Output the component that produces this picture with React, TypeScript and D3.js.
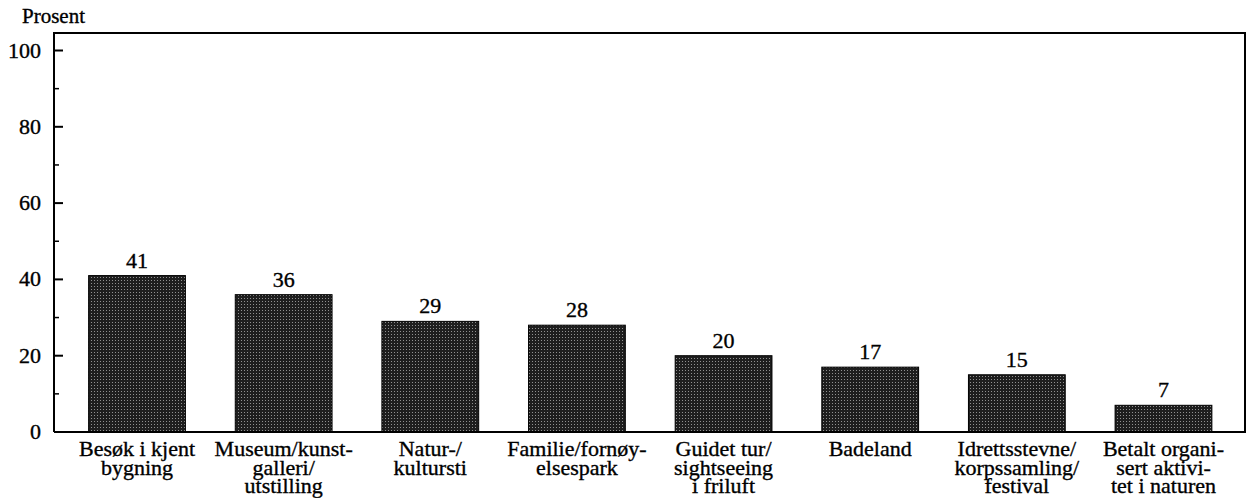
import React from "react";
import * as d3 from "d3";

const categories: string[][] = [
  ["Besøk i kjent", "bygning"],
  ["Museum/kunst-", "galleri/", "utstilling"],
  ["Natur-/", "kultursti"],
  ["Familie/fornøy-", "elsespark"],
  ["Guidet tur/", "sightseeing", "i friluft"],
  ["Badeland"],
  ["Idrettsstevne/", "korpssamling/", "festival"],
  ["Betalt organi-", "sert aktivi-", "tet i naturen"],
];
const values: number[] = [41, 36, 29, 28, 20, 17, 15, 7];
const majorTicks: number[] = [0, 20, 40, 60, 80, 100];
const minorTicks: number[] = [10, 30, 50, 70, 90];
const yTitle = "Prosent";

const W = 1246;
const H = 498;
const FONT = "Liberation Serif, Times New Roman, serif";

export default function App() {
  const x0 = 54, x1 = 1245, yTop = 33, yBase = 432;
  const y = d3.scaleLinear().domain([0, 100]).range([yBase, 50.5]);
  const idx = values.map((_, i) => String(i));
  const x = d3
    .scaleBand<string>()
    .domain(idx)
    .range([63.7, 1236.8])
    .paddingInner(0.34)
    .paddingOuter(0.17);
  const bw = x.bandwidth();
  const txt = { fontSize: 22, fill: "#000", stroke: "#000", strokeWidth: 0.35 };

  return (
    <svg
      width={W}
      height={H}
      style={{ position: "fixed", left: 0, top: 0, background: "#fff", fontFamily: FONT }}
    >
      <defs>
        <pattern id="dots" width={3} height={3} patternUnits="userSpaceOnUse">
          <rect width={3} height={3} fill="#1e1e1e" />
          <rect x={1} y={1} width={1} height={1} fill="#909090" />
        </pattern>
      </defs>
      <text x={22} y={23} {...txt} fontSize={21}>
        {yTitle}
      </text>
      {values.map((v, i) => (
        <g key={i}>
          <rect
            x={x(String(i))!}
            y={y(v)}
            width={bw}
            height={yBase - y(v)}
            fill="url(#dots)"
            stroke="#000"
            strokeWidth={1}
          />
          <text x={x(String(i))! + bw / 2} y={y(v) - 8} textAnchor="middle" {...txt}>
            {v}
          </text>
          {categories[i].map((line, j) => (
            <text
              key={j}
              x={x(String(i))! + bw / 2}
              y={456 + j * 18.5}
              textAnchor="middle"
              {...txt}
            >
              {line}
            </text>
          ))}
        </g>
      ))}
      <path
        d={`M${x0},${yBase}V${yTop}H${x1}V${yBase}H${x0}`}
        fill="none"
        stroke="#000"
        strokeWidth={2}
      />
      {majorTicks.map((t) => (
        <g key={t}>
          <line x1={x0} x2={x0 + 9} y1={y(t)} y2={y(t)} stroke="#000" strokeWidth={2} />
          <text x={41} y={y(t) + 7} textAnchor="end" {...txt}>
            {t}
          </text>
        </g>
      ))}
      {minorTicks.map((t) => (
        <line key={t} x1={x0} x2={x0 + 5} y1={y(t)} y2={y(t)} stroke="#000" strokeWidth={1.5} />
      ))}
    </svg>
  );
}
